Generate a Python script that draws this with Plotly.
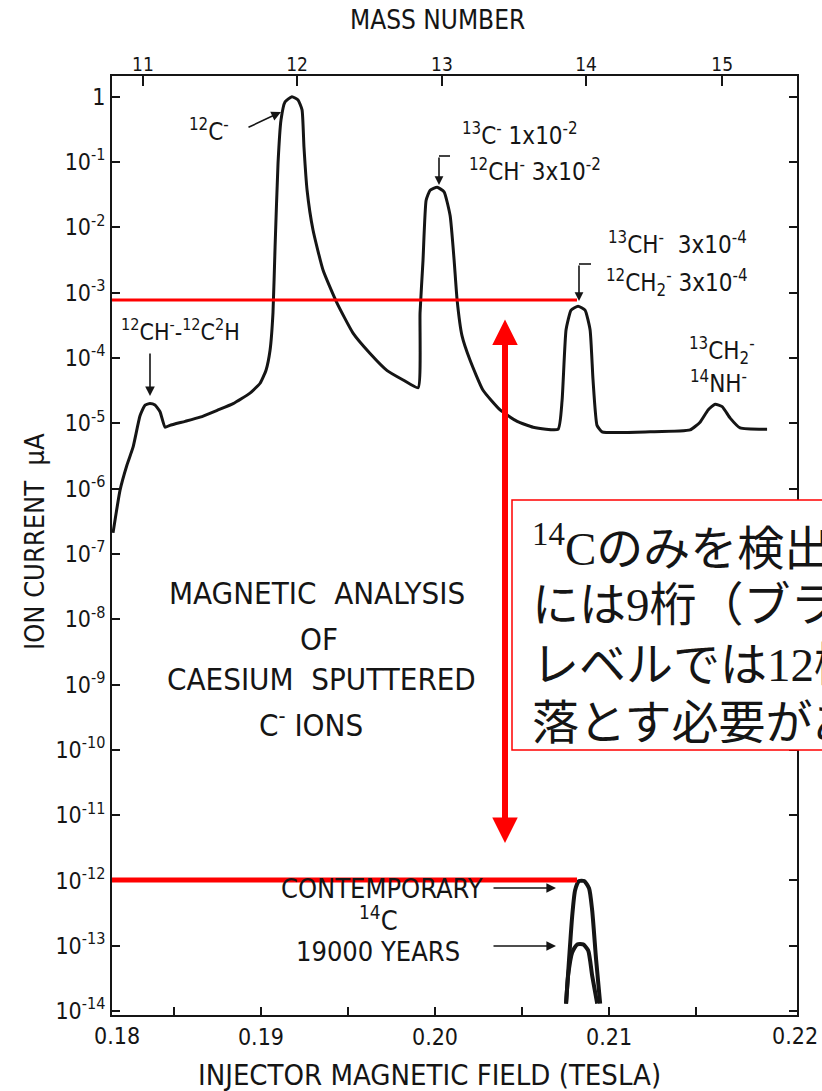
import plotly.graph_objects as go

# ---------------- data ----------------
# main magnetic scan: injector field (T) vs ion current (uA)
field = [0.1815, 0.1819, 0.18230, 0.18265, 0.18305, 0.18334, 0.18362, 0.18391, 0.18420, 0.18449,
         0.18477, 0.18564, 0.18650, 0.18753, 0.18840, 0.18937, 0.18995, 0.19029, 0.19052, 0.19069,
         0.19081, 0.19098, 0.19115, 0.19138, 0.19178, 0.19213, 0.19236, 0.19247, 0.19265, 0.19299,
         0.19357, 0.19437, 0.19529, 0.19627, 0.19725, 0.19817, 0.19903, 0.19914, 0.19931, 0.19949,
         0.19972, 0.20012, 0.20052, 0.20087, 0.20110, 0.20127, 0.20155, 0.20201, 0.20276, 0.20374,
         0.20472, 0.20564, 0.20707, 0.20730, 0.20753, 0.20782, 0.20822, 0.20862, 0.20891, 0.20908,
         0.20931, 0.20960, 0.21236, 0.21466, 0.21523, 0.21569, 0.21610, 0.21650, 0.21696, 0.21753,
         0.21908]
current = [2.1e-7, 9.4e-7, 2.3e-6, 4.3e-6, 1.3e-5, 1.9e-5, 2.0e-5, 1.9e-5, 1.5e-5, 8.7e-6,
           9.3e-6, 1.07e-5, 1.24e-5, 1.6e-5, 2.0e-5, 2.9e-5, 4.1e-5, 6.5e-5, 1.3e-4, 4.9e-4,
           5.0e-3, 9.6e-2, 0.44, 0.83, 1.0, 0.89, 0.63, 0.17, 3.7e-2, 9.1e-3,
           2.2e-3, 6.9e-4, 2.4e-4, 1.17e-4, 6.4e-5, 4.6e-5, 3.5e-5, 4.9e-4, 3.1e-3, 2.6e-2,
           3.7e-2, 4.1e-2, 3.5e-2, 1.5e-2, 3.1e-3, 7.7e-4, 2.2e-4, 9.3e-5, 3.2e-5, 1.6e-5,
           1.07e-5, 8.7e-6, 8.1e-6, 2.2e-5, 2.7e-4, 5.4e-4, 6.2e-4, 5.4e-4, 2.7e-4, 4.6e-5,
           9.3e-6, 7.4e-6, 7.4e-6, 7.9e-6, 1.04e-5, 1.6e-5, 1.96e-5, 1.8e-5, 1.2e-5, 8.5e-6,
           8.1e-6]

# 14C peaks
c14_modern_field = [0.20753, 0.20770, 0.20788, 0.20805, 0.20828, 0.20857, 0.20885, 0.20903, 0.20926, 0.20949]
c14_modern_current = [1.3e-14, 6.0e-14, 2.8e-13, 7.1e-13, 9.8e-13, 9.8e-13, 7.6e-13, 3.5e-13, 6.0e-14, 1.3e-14]
c14_old_field = [0.20753, 0.20765, 0.20788, 0.20817, 0.20851, 0.20880, 0.20903, 0.20932]
c14_old_current = [1.3e-14, 3.5e-14, 7.9e-14, 1.05e-13, 1.05e-13, 8.5e-14, 3.5e-14, 1.3e-14]

# red guide levels (uA) and where they end (T)
red_levels = [7.7e-4, 1.02e-12]
red_end_field = 0.20816

# axes
x_range = [0.18144, 0.22080]
x_tickvals = [0.185, 0.19, 0.195, 0.20, 0.205, 0.21, 0.215]
x_ticktext = ["", "0.19", "", "0.20", "", "0.21", ""]
x_corner_labels = ["0.18", "0.22"]
mass_field = [0.18322, 0.19207, 0.20040, 0.20868, 0.21650]
mass_labels = ["11", "12", "13", "14", "15"]
y_exponents = list(range(0, 15))
y_tickvals = [10.0 ** (-k) for k in y_exponents]
y_ticktext = ["1"] + ["10<sup>-%d</sup>" % k for k in y_exponents[1:]]

# ---------------- layout geometry ----------------
W, H = 822, 1091
L, R, T, B = 112, 797, 76, 1015
INK = "#151515"
RED = "#FF0000"
F = "Liberation Sans Narrow, DejaVu Sans Condensed, Liberation Sans, Arial, sans-serif"
FJ = "Liberation Serif, Noto Sans CJK JP, serif"


def px(x):
    return (x - L) / (R - L)


def py(y):
    return (B - y) / (B - T)


def txt(s, x, y, size, family=F, xanchor="center", **kw):
    return dict(text=s, x=px(x), y=py(y), xref="paper", yref="paper", showarrow=False,
                font=dict(family=family, size=size, color=INK), xanchor=xanchor,
                yanchor="middle", **kw)


def arrow(xt, yt, xs, ys, color=INK, width=1.6, head=2, size=1.2, **kw):
    return dict(text="", x=px(xt), y=py(yt), xref="paper", yref="paper", ax=xs - xt, ay=ys - yt,
                showarrow=True, arrowhead=head, arrowwidth=width, arrowsize=size,
                arrowcolor=color, standoff=0, startstandoff=0, **kw)


fig = go.Figure()
fig.add_trace(go.Scatter(x=field, y=current, mode="lines",
                         line=dict(color=INK, width=3, shape="spline", smoothing=0.45),
                         showlegend=False))
fig.add_trace(go.Scatter(x=c14_modern_field, y=c14_modern_current, mode="lines",
                         line=dict(color=INK, width=4, shape="spline", smoothing=0.6),
                         showlegend=False))
fig.add_trace(go.Scatter(x=c14_old_field, y=c14_old_current, mode="lines",
                         line=dict(color=INK, width=4, shape="spline", smoothing=0.6),
                         showlegend=False))
# top mass-number axis carrier
fig.add_trace(go.Scatter(x=mass_field, y=[1.0] * len(mass_field), xaxis="x2", mode="markers",
                         marker=dict(opacity=0), hoverinfo="skip", showlegend=False))

shapes = []
for lvl, w in zip(red_levels, [3, 5]):
    shapes.append(dict(type="line", xref="x", yref="y", x0=x_range[0], x1=red_end_field,
                       y0=lvl, y1=lvl, line=dict(color=RED, width=w), layer="above"))
# bracket tops for the 13 and 14 arrows
shapes.append(dict(type="line", xref="paper", yref="paper", x0=px(439), x1=px(450),
                   y0=py(156), y1=py(156), line=dict(color=INK, width=1.6)))
shapes.append(dict(type="line", xref="paper", yref="paper", x0=px(579), x1=px(591),
                   y0=py(264), y1=py(264), line=dict(color=INK, width=1.6)))
# red text box
shapes.append(dict(type="rect", xref="paper", yref="paper", x0=px(512), x1=px(900),
                   y0=py(750), y1=py(500), line=dict(color=RED, width=1.5),
                   fillcolor="white", layer="above"))

ann = []
ann.append(txt("MASS NUMBER", 437, 20, 26))
ann.append(txt("INJECTOR MAGNETIC FIELD (TESLA)", 429, 1075, 29))
ann.append(txt("ION CURRENT  \u03bcA", 34, 542, 27, textangle=-90))
ann.append(txt(x_corner_labels[0], 117, 1036, 23))
ann.append(txt(x_corner_labels[1], 795, 1036, 23))

ann.append(txt("<sup>12</sup>C<sup>-</sup>", 209, 130, 24))
ann.append(arrow(281, 112, 247, 128))
ann.append(txt("<sup>13</sup>C<sup>-</sup> 1x10<sup>-2</sup>", 520, 134, 24))
ann.append(txt("<sup>12</sup>CH<sup>-</sup> 3x10<sup>-2</sup>", 535, 170, 24))
ann.append(arrow(439, 185, 439, 156, size=1.1))
ann.append(txt("<sup>13</sup>CH<sup>-</sup>  3x10<sup>-4</sup>", 677, 243, 24))
ann.append(txt("<sup>12</sup>CH<sub>2</sub><sup>-</sup> 3x10<sup>-4</sup>", 677, 282, 24))
ann.append(arrow(579, 301, 579, 264, size=1.1))
ann.append(txt("<sup>13</sup>CH<sub>2</sub><sup>-</sup>", 722, 350, 24))
ann.append(txt("<sup>14</sup>NH<sup>-</sup>", 718, 382, 24))
ann.append(txt("<sup>12</sup>CH<sup>-</sup>-<sup>12</sup>C<sup>2</sup>H", 180, 330, 23))
ann.append(arrow(150, 396, 150, 352))

ann.append(txt("MAGNETIC&nbsp;&nbsp;ANALYSIS", 317, 593, 31))
ann.append(txt("OF", 319, 639, 31))
ann.append(txt("CAESIUM&nbsp;&nbsp;SPUTTERED", 321, 679, 31))
ann.append(txt("C<sup>-</sup> IONS", 311, 723, 31))

ann.append(txt("CONTEMPORARY", 382, 888, 27))
ann.append(arrow(556, 888, 492, 888, width=1.6))
ann.append(txt("<sup>14</sup>C", 378, 918, 27))
ann.append(txt("19000 YEARS", 378, 951, 27))
ann.append(arrow(556, 946, 492, 946, width=1.6))

# red double arrow
ann.append(arrow(505, 843, 505, 318, color=RED, width=6, head=2, size=0.85,
                 arrowside="end+start", startarrowhead=2, startarrowsize=0.85))

# Japanese note (runs off the right edge as in the source)
jp_lines = ["<sup>14</sup>Cのみを検出するため",
            "には9桁（ブランク",
            "レベルでは12桁）",
            "落とす必要がある"]
for s, yy in zip(jp_lines, [545, 605, 665, 723]):
    ann.append(txt(s, 530, yy, 47, family=FJ, xanchor="left"))

fig.update_layout(
    width=W, height=H, autosize=False,
    margin=dict(l=L, r=W - R, t=T, b=H - B, pad=0),
    paper_bgcolor="white", plot_bgcolor="white",
    showlegend=False,
    xaxis=dict(range=x_range, showline=True, linecolor=INK, linewidth=2, mirror=True,
               ticks="inside", ticklen=8, tickwidth=1.5, tickcolor=INK,
               tickvals=x_tickvals, ticktext=x_ticktext, showgrid=False, zeroline=False,
               tickfont=dict(family=F, size=23, color=INK)),
    xaxis2=dict(range=x_range, overlaying="x", side="top", anchor="y",
                tickvals=mass_field, ticktext=mass_labels, ticks="inside", ticklen=10,
                tickwidth=1.5, tickcolor=INK, showline=False, showgrid=False, zeroline=False,
                tickfont=dict(family=F, size=19, color=INK)),
    yaxis=dict(type="log", range=[-14.06, 0.317], showline=True, linecolor=INK, linewidth=2,
               mirror="ticks", ticks="inside", ticklen=8, tickwidth=1.5, tickcolor=INK,
               tickvals=y_tickvals, ticktext=y_ticktext, showgrid=False, zeroline=False,
               tickfont=dict(family=F, size=23, color=INK)),
    shapes=shapes,
    annotations=ann,
)

fig.write_html("out.html")
